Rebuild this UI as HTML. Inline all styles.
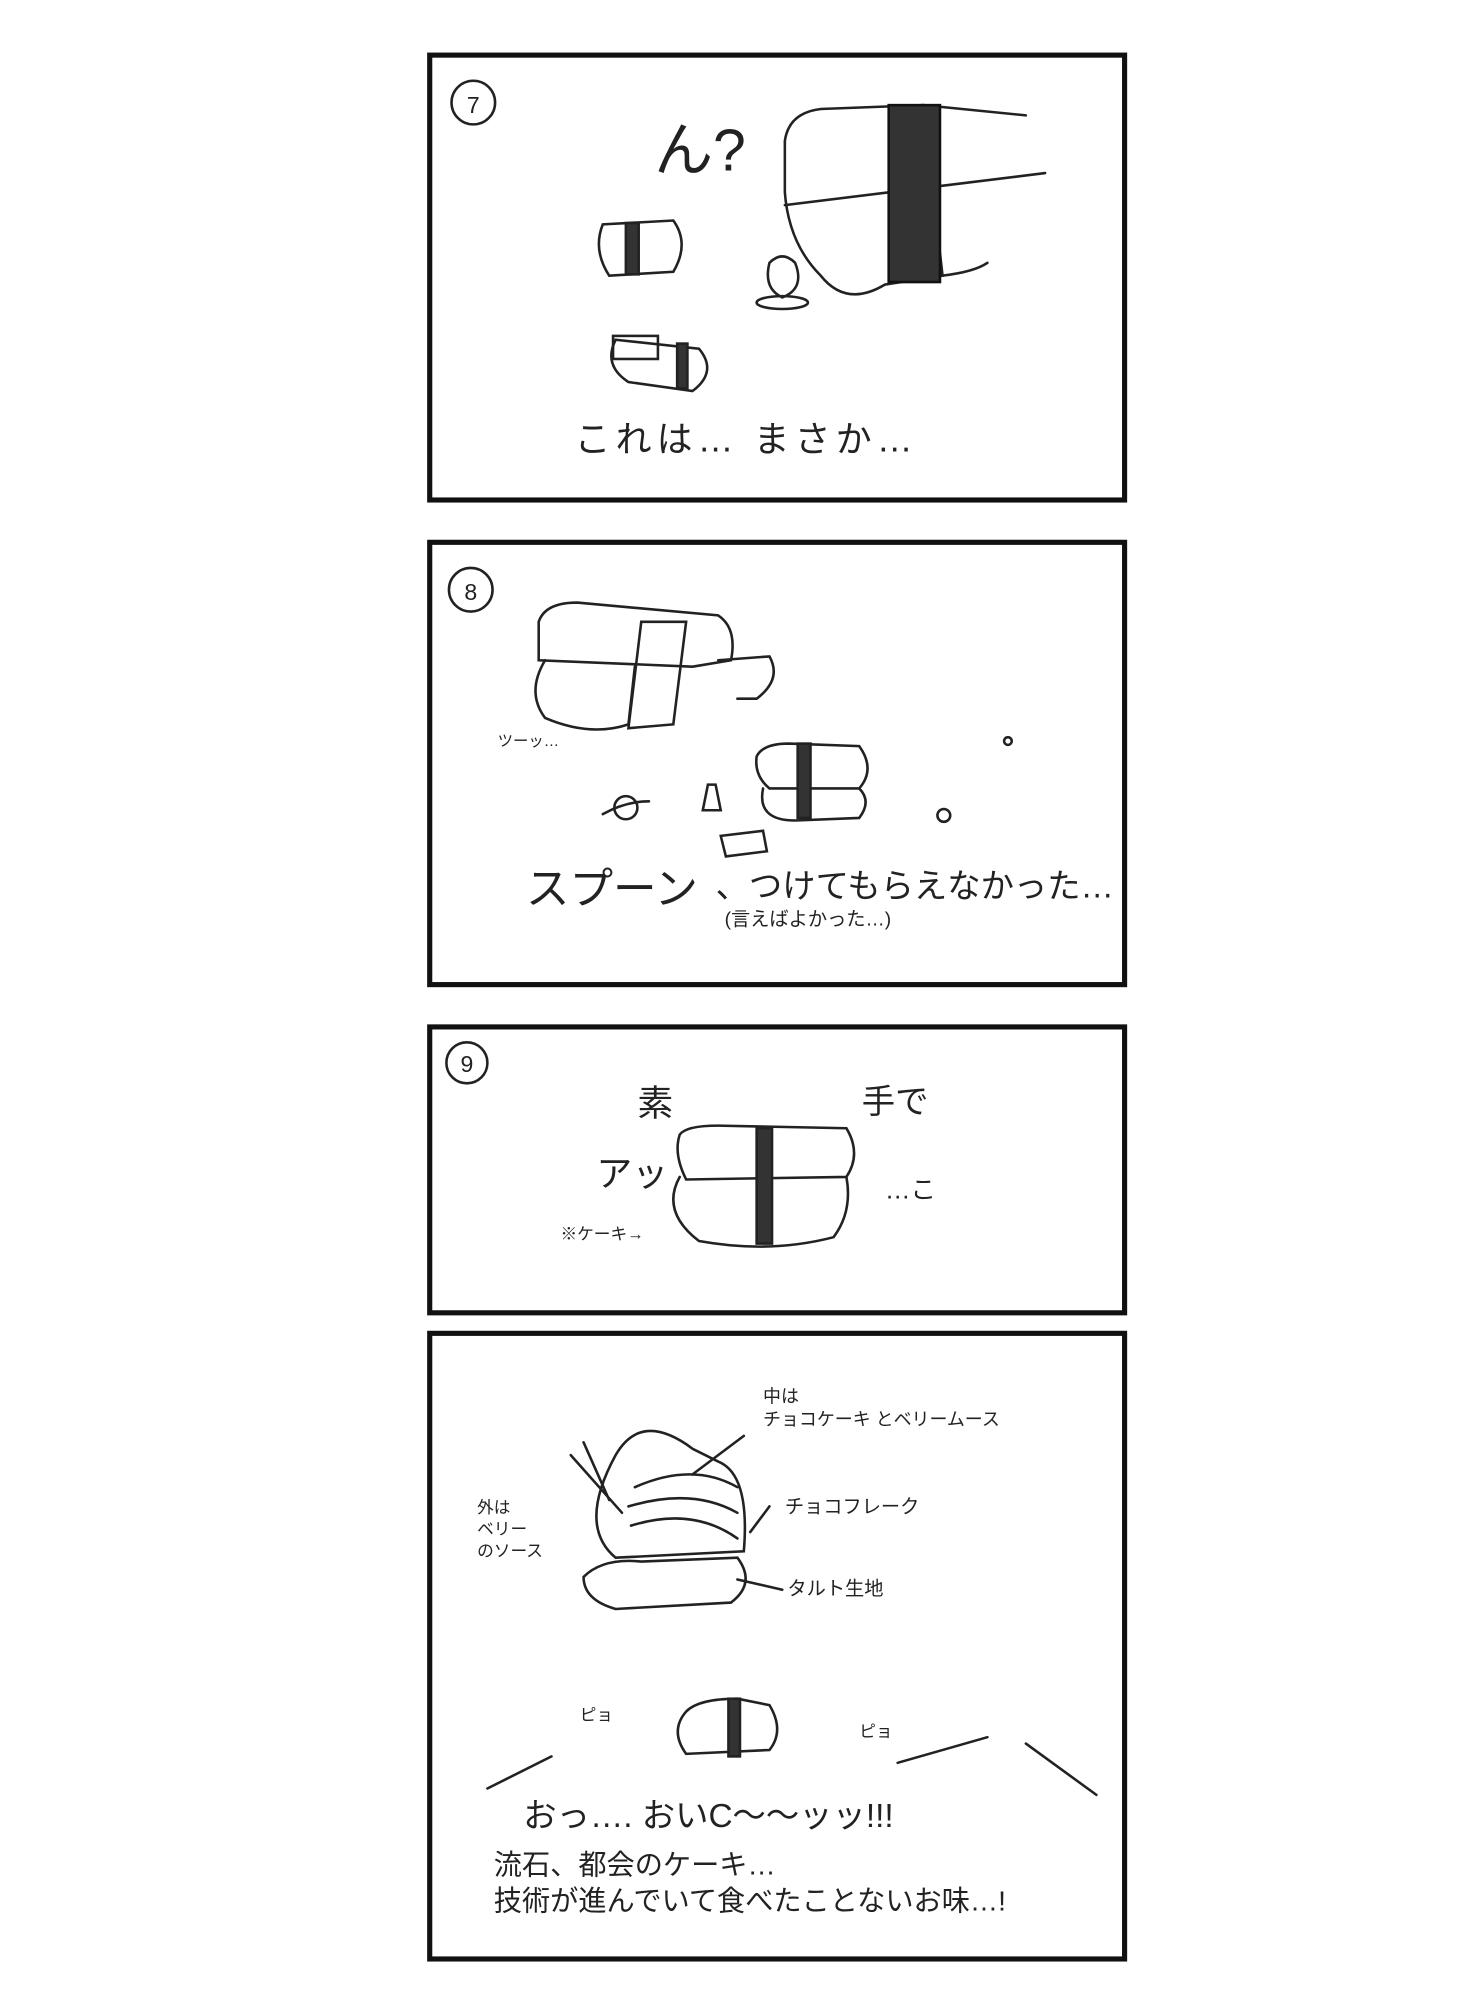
<!DOCTYPE html>
<html><head><meta charset="utf-8"><style>
html,body{margin:0;padding:0;background:#fff;}
svg{display:block}
text{font-family:"Liberation Sans","Noto Sans CJK JP",sans-serif;fill:#222}
</style></head><body>
<svg width="1462" height="2000" viewBox="0 0 1140 1560" xmlns="http://www.w3.org/2000/svg">
<rect width="1140" height="1560" fill="#fff"/>
<g fill="none" stroke="#111" stroke-width="4">
<rect x="335" y="43" width="542" height="347"/>
<rect x="335" y="423" width="542" height="345"/>
<rect x="335" y="801" width="542" height="223"/>
<rect x="335" y="1040" width="542" height="488"/>
</g>
<g fill="none" stroke="#222" stroke-width="2" stroke-linecap="round">
<!-- panel 7 -->
<circle cx="369" cy="80" r="17"/>
<path d="M612 110 Q615 88 640 85 L720 82 L735 215 L690 222 Q660 240 640 215 Q615 190 612 150 Z"/>
<path d="M612 160 L815 135"/>
<path d="M720 82 L800 90"/>
<path d="M735 215 Q760 212 770 205"/>
<rect x="693" y="82" width="40" height="138" fill="#333" stroke="#111"/>
<path d="M470 175 L525 172 Q538 190 525 212 L475 215 Q462 195 470 175Z"/>
<rect x="488" y="174" width="10" height="40" fill="#333"/>
<path d="M600 205 Q610 195 620 205 Q628 225 610 232 Q595 225 600 205Z"/>
<ellipse cx="610" cy="236" rx="20" ry="5"/>
<path d="M480 265 L545 272 Q560 290 540 305 L490 298 Q470 285 480 265Z"/>
<rect x="528" y="268" width="8" height="35" fill="#333"/>
<rect x="478" y="262" width="35" height="18"/>
<!-- panel 8 -->
<circle cx="367" cy="460" r="17"/>
<path d="M420 485 Q425 470 450 470 L560 480 Q575 490 570 515 L540 520 L420 515Z"/>
<path d="M425 515 Q410 540 425 560 Q460 575 490 565 L495 520"/>
<path d="M500 485 L535 485 L525 565 L490 568Z"/>
<path d="M560 515 L600 512 Q610 530 590 545 L575 545"/>
<path d="M590 590 Q595 580 615 580 L670 582 Q683 600 670 615 L600 615 Q588 605 590 590Z"/>
<path d="M595 615 Q590 640 620 640 L670 638 Q680 625 670 615"/>
<rect x="622" y="580" width="10" height="58" fill="#333"/>
<circle cx="488" cy="630" r="9"/><path d="M470 635 Q488 625 506 625"/>
<path d="M552 612 L558 612 L562 632 L548 632Z"/>
<path d="M562 652 L595 648 L598 664 L566 668Z"/>
<circle cx="736" cy="636" r="5"/><circle cx="786" cy="578" r="3"/>
<!-- panel 9 -->
<circle cx="364" cy="829" r="16"/>
<path d="M530 885 Q535 878 560 878 L660 880 Q672 900 660 918 L535 920 Q525 900 530 885Z"/>
<path d="M530 918 Q515 945 545 968 Q600 978 650 965 Q665 945 660 918"/>
<rect x="590" y="880" width="12" height="90" fill="#333"/>
<!-- panel 10 -->
<path d="M480 1135 Q500 1100 540 1130 L560 1140 Q585 1150 580 1210 L480 1215 Q450 1190 480 1135Z"/>
<path d="M495 1160 Q540 1140 575 1160 M490 1175 Q540 1160 575 1180 M492 1190 Q540 1175 575 1200"/>
<path d="M455 1230 Q470 1215 500 1218 L575 1215 Q590 1235 570 1250 L480 1255 Q455 1248 455 1230Z"/>
<path d="M445 1135 L485 1180 M455 1125 L475 1170"/>
<path d="M540 1150 L580 1120 M585 1195 L600 1175 M575 1232 L610 1240"/>
<path d="M535 1335 Q545 1325 575 1325 L600 1330 Q612 1350 600 1365 L535 1368 Q522 1350 535 1335Z"/>
<rect x="568" y="1325" width="9" height="45" fill="#333"/>
<path d="M380 1395 L430 1370 M700 1375 L770 1355 M800 1360 L855 1400"/>
</g>
<g font-size="16">
<text x="364" y="88" font-size="18">7</text>
<text x="510" y="133" font-size="46">ん?</text>
<text x="448" y="352" font-size="28" letter-spacing="4">これは… まさか…</text>
<text x="362" y="468" font-size="18">8</text>
<text x="410" y="705" font-size="34">スプーン</text>
<text x="558" y="700" font-size="26">、つけてもらえなかった…</text>
<text x="565" y="722" font-size="15">(言えばよかった…)</text>
<text x="388" y="582" font-size="12">ツーッ…</text>
<text x="359" y="836" font-size="18">9</text>
<text x="497" y="870" font-size="28">素</text>
<text x="672" y="868" font-size="26">手で</text>
<text x="465" y="925" font-size="28">アッ</text>
<text x="690" y="935" font-size="20">…こ</text>
<text x="437" y="967" font-size="13">※ケーキ→</text>
<text x="595" y="1094" font-size="14">中は</text>
<text x="595" y="1112" font-size="14">チョコケーキ とベリームース</text>
<text x="612" y="1180" font-size="15">チョコフレーク</text>
<text x="614" y="1244" font-size="15">タルト生地</text>
<text x="372" y="1180" font-size="13">外は</text>
<text x="372" y="1197" font-size="13">ベリー</text>
<text x="372" y="1214" font-size="13">のソース</text>
<text x="452" y="1342" font-size="13">ピョ</text>
<text x="670" y="1355" font-size="13">ピョ</text>
<text x="408" y="1425" font-size="26">おっ…. おいC〜〜ッッ!!!</text>
<text x="385" y="1462" font-size="22">流石、都会のケーキ…</text>
<text x="385" y="1490" font-size="22">技術が進んでいて食べたことないお味…!</text>
</g>
</svg>
</body></html>
